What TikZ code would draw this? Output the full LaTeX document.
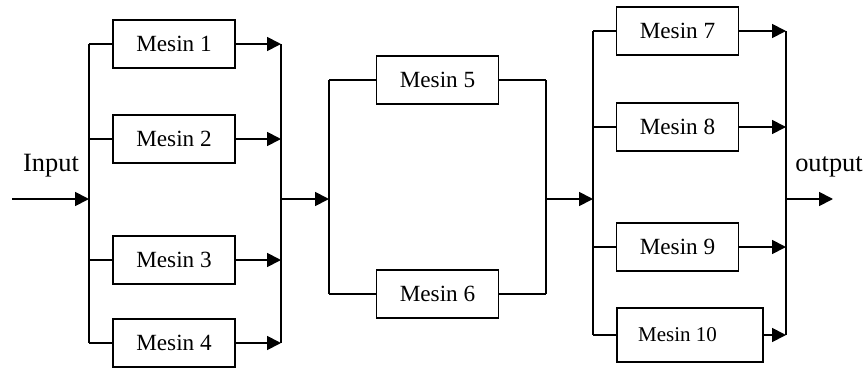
\documentclass[tikz,border=0pt]{standalone}
\usepackage{fontspec}
\setmainfont{Liberation Serif}
\usetikzlibrary{arrows.meta}
\begin{document}
\begin{tikzpicture}[x=1pt,y=-1pt,
  line width=1.8pt,
  mbox/.style={draw,minimum width=122pt,minimum height=48pt,inner sep=0pt,font=\fontsize{23.2}{26}\selectfont},
  mboxb/.style={draw,minimum width=146pt,minimum height=54pt,inner sep=0pt,font=\fontsize{21}{24}\selectfont},
  lbl/.style={anchor=base,inner sep=0pt,font=\fontsize{26.4}{30}\selectfont},
  arr/.style={-{Triangle[length=14pt,width=14pt]}}]
\useasboundingbox (0,0) rectangle (864,367);
% left group
\node[mbox] (m1) at (174,44) {Mesin 1};
\node[mbox] (m2) at (174,139) {Mesin 2};
\node[mbox] (m3) at (174,260) {Mesin 3};
\node[mbox] (m4) at (174,343) {Mesin 4};
% middle group
\node[mbox] (m5) at (437.5,80) {Mesin 5};
\node[mbox] (m6) at (437.5,294) {Mesin 6};
% right group
\node[mbox] (m7) at (677.5,31) {Mesin 7};
\node[mbox] (m8) at (677.5,127) {Mesin 8};
\node[mbox] (m9) at (677.5,247) {Mesin 9};
\node[mboxb] (m10) at (690,335) {Mesin 10\hspace*{25pt}};
% labels
\node[lbl] (inp) at (51,171) {Input};
\node[lbl] (outp) at (829,171) {output};
% bus coordinates
\coordinate (in0) at (12,199);
\coordinate (b1) at (89,199);
\coordinate (b2) at (281,199);
\coordinate (b3) at (329,199);
\coordinate (b4) at (546,199);
\coordinate (b5) at (593,199);
\coordinate (b6) at (786,199);
\coordinate (out0) at (833,199);
% buses
\draw (m1.west -| b1) -- (m4.west -| b1);
\draw (m1.east -| b2) -- (m4.east -| b2);
\draw (m5.west -| b3) -- (m6.west -| b3);
\draw (m5.east -| b4) -- (m6.east -| b4);
\draw (m7.west -| b5) -- (m10.west -| b5);
\draw (m7.east -| b6) -- (m10.east -| b6);
% main flow
\draw[arr] (in0) -- (b1);
\draw[arr] (b2) -- (b3);
\draw[arr] (b4) -- (b5);
\draw[arr] (b6) -- (out0);
% branches
\foreach \m in {m1,m2,m3,m4}{
  \draw (\m.west -| b1) -- (\m.west);
  \draw[arr] (\m.east) -- (\m.east -| b2);
}
\foreach \m in {m5,m6}{
  \draw (\m.west -| b3) -- (\m.west);
  \draw (\m.east) -- (\m.east -| b4);
}
\foreach \m in {m7,m8,m9,m10}{
  \draw (\m.west -| b5) -- (\m.west);
  \draw[arr] (\m.east) -- (\m.east -| b6);
}
\end{tikzpicture}
\end{document}
